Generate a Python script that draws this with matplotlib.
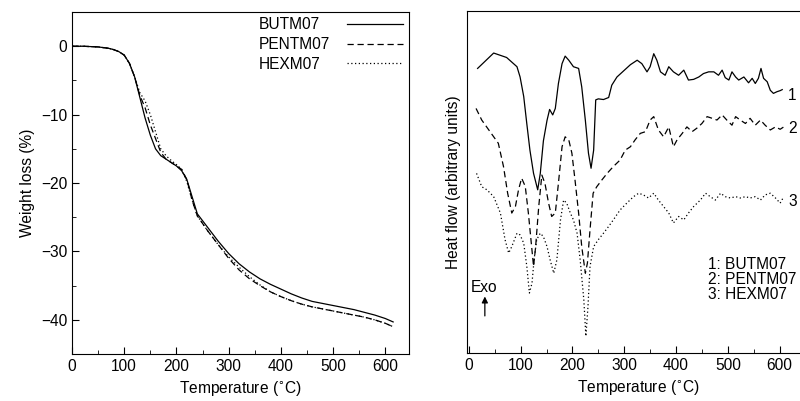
import matplotlib
matplotlib.use("Agg")
import matplotlib.pyplot as plt
from matplotlib.ticker import MultipleLocator

plt.rcParams['font.family'] = ['Liberation Sans', 'DejaVu Sans']
FS = 11.2
plt.rcParams['font.size'] = FS

# ---- TGA data (left) ----
tga_T = [1, 20, 50, 70, 80, 90, 100, 110, 120, 130, 140, 150, 160, 170, 180, 190, 200, 210, 220, 230, 240,
         260, 280, 300, 320, 340, 360, 380, 400, 420, 440, 460, 480, 500, 520, 540, 560, 580, 600, 615]
butm07 = [0, 0, -0.1, -0.3, -0.5, -0.8, -1.3, -2.5, -4.5, -7.5, -10.5, -13, -15, -16, -16.5, -17, -17.5, -18.2, -19.5, -22, -24.5,
          -26.5, -28.5, -30.3, -31.8, -33, -34, -34.8, -35.5, -36.2, -36.8, -37.3, -37.6, -37.9, -38.2, -38.5, -38.9, -39.3, -39.8, -40.3]
pentm07 = [0, 0, -0.1, -0.3, -0.5, -0.8, -1.3, -2.5, -4.5, -7.2, -9, -11.5, -13.5, -15.5, -16.5, -17, -17.5, -18, -19.5, -22.5, -24.8,
           -27, -29, -31, -32.7, -34, -35, -35.9, -36.6, -37.2, -37.7, -38.1, -38.4, -38.7, -39.0, -39.3, -39.6, -40.0, -40.5, -41.0]
hexm07 = [0, 0, -0.1, -0.3, -0.5, -0.8, -1.3, -2.5, -4.5, -6.8, -8, -10, -12.5, -15, -16, -16.7, -17.3, -18, -19.8, -22.5, -24.8,
          -27, -29, -30.8, -32.3, -33.7, -34.9, -35.9, -36.6, -37.2, -37.7, -38.1, -38.4, -38.7, -39.0, -39.3, -39.6, -40.0, -40.5, -41.0]

# ---- DSC data (right), arbitrary units ----
dsc1_T = [17, 48, 73, 93, 99, 106, 112, 118, 125, 133, 138, 144, 151, 156, 162, 167, 173, 180, 186, 193, 202, 212, 218,
          225, 231, 236, 241, 245, 250, 260, 270, 276, 286, 299, 312, 325, 334, 344, 350, 357, 363, 370, 379, 386, 395,
          405, 415, 424, 434, 444, 453, 463, 473, 482, 489, 495, 502, 508, 515, 521, 531, 540, 547, 553, 559, 564, 569,
          576, 582, 588, 595, 601, 605]
dsc1 = [83.2, 87.7, 86.4, 83.7, 80.7, 75, 67, 59.3, 52.5, 47.7, 52.5, 62, 68, 71.2, 69.6, 71.5, 78.8, 84.6, 86.8, 85.6,
        83.7, 83.2, 77.8, 68, 58.4, 54, 59.3, 74, 74.3, 74.1, 74.7, 78.3, 80.7, 82.5, 84.3, 85.6, 84.6, 82.2, 83.7, 87.5,
        85.6, 82.2, 81.2, 83.7, 82.2, 81.2, 82.7, 79.8, 80, 80.7, 81.7, 82.2, 82.2, 81.2, 82.7, 80.5, 79.8, 82.2, 80.7,
        79.8, 80.7, 79, 80.3, 78.8, 80.3, 83.2, 80.3, 79.3, 76.8, 75.9, 76.4, 76.7, 77]
dsc2_T = [14, 25, 41, 57, 67, 75, 83, 90, 96, 102, 109, 115, 120, 125, 129, 135, 141, 147, 154, 160, 167, 173, 180, 186,
          193, 199, 205, 212, 218, 225, 229, 234, 240, 247, 257, 267, 279, 292, 302, 312, 321, 331, 341, 350, 357, 366,
          376, 386, 395, 402, 412, 421, 431, 440, 450, 460, 470, 479, 489, 498, 508, 515, 524, 534, 543, 553, 563, 572,
          582, 592, 601, 608]
dsc2 = [71.5, 68.1, 64.7, 61.3, 54.5, 46.7, 40.9, 42.8, 47.7, 51.1, 48.7, 40.9, 33.1, 25.3, 31, 42.8, 52, 49.6, 43.8,
        39.9, 40.9, 49.6, 60.3, 63.2, 62.3, 58.4, 50.6, 40.9, 31.1, 23.3, 26.3, 36, 46.7, 48.6, 50.6, 52.5, 54.5, 56.4,
        59.3, 60.3, 62.3, 64.2, 64.7, 68.1, 69.1, 65.2, 63.2, 66.1, 60.3, 62.3, 64.2, 66.1, 64.7, 65.7, 67.1, 69.1, 68.6,
        68.1, 69.6, 68.1, 66.6, 69.1, 68.1, 67.1, 68.6, 66.6, 68.1, 66.6, 65.2, 66.1, 65.4, 66.1]
dsc3_T = [15, 25, 35, 48, 61, 70, 77, 83, 93, 99, 106, 112, 117, 122, 126, 131, 138, 144, 151, 157, 164, 170, 177, 183,
          189, 196, 202, 209, 215, 222, 226, 230, 234, 241, 250, 260, 270, 279, 292, 305, 318, 328, 337, 347, 357, 366,
          376, 386, 395, 405, 415, 424, 434, 447, 457, 466, 476, 486, 495, 505, 515, 524, 534, 543, 553, 563, 572, 582,
          592, 601, 608]
dsc3 = [52.5, 48.6, 47.7, 45.7, 40.9, 33.1, 29.2, 31.1, 35, 34.5, 32.1, 25.3, 17.5, 20.4, 27.2, 33.1, 35, 34, 31.1, 27.2,
        23.3, 27.2, 38.9, 44.7, 43.8, 40.9, 38.9, 35, 27.2, 15.6, 4.9, 13.4, 25.3, 31.1, 33.1, 35, 37, 38.9, 41.8, 43.8,
        45.7, 46.7, 46.2, 45.3, 46.7, 44.7, 42.8, 40.9, 38, 39.9, 38.9, 40.9, 42.8, 44.7, 46.7, 45.7, 44.7, 46.7, 45.7,
        45.3, 45.7, 45.3, 45.7, 45.3, 45.7, 44.7, 46.2, 46.7, 45.3, 43.8, 45.7]

curve_labels = ['1', '2', '3']
curve_label_y = [75.4, 65.7, 44.3]
key_text = '1: BUTM07\n2: PENTM07\n3: HEXM07'

fig = plt.figure(figsize=(8.0, 4.01), dpi=100)

# ---- Left panel ----
ax1 = fig.add_axes([0.09, 0.117, 0.421, 0.853])
ax1.plot(tga_T, butm07, color='black', lw=0.9, ls='-', label='BUTM07')
ax1.plot(tga_T, pentm07, color='black', lw=0.9, ls=(0, (5, 3)), label='PENTM07')
ax1.plot(tga_T, hexm07, color='black', lw=0.9, ls=(0, (1, 2)), label='HEXM07')
ax1.set_xlim(0, 645)
ax1.set_ylim(-45, 5)
ax1.xaxis.set_major_locator(MultipleLocator(100))
ax1.xaxis.set_minor_locator(MultipleLocator(50))
ax1.yaxis.set_major_locator(MultipleLocator(10))
ax1.yaxis.set_minor_locator(MultipleLocator(5))
ax1.tick_params(which='both', direction='in', labelsize=FS)
ax1.tick_params(which='major', length=5)
ax1.tick_params(which='minor', length=3)
ax1.set_xlabel('Temperature ($^{\\circ}$C)', fontsize=FS)
ax1.set_ylabel('Weight loss (%)', fontsize=FS)
leg = ax1.legend(loc='upper right', frameon=False, markerfirst=False, fontsize=FS,
                 handlelength=3.6, labelspacing=0.3, borderaxespad=0.25, borderpad=0.1,
                 handletextpad=1.1)

# ---- Right panel ----
ax2 = fig.add_axes([0.5834, 0.12, 0.43, 0.8526])
ax2.plot(dsc1_T, dsc1, color='black', lw=0.9, ls='-')
ax2.plot(dsc2_T, dsc2, color='black', lw=0.9, ls=(0, (5, 3)))
ax2.plot(dsc3_T, dsc3, color='black', lw=0.9, ls=(0, (1, 2)))
ax2.set_xlim(-4, 660)
ax2.set_ylim(0, 100)
ax2.xaxis.set_major_locator(MultipleLocator(100))
ax2.xaxis.set_minor_locator(MultipleLocator(50))
ax2.tick_params(axis='x', which='both', direction='in', labelsize=FS)
ax2.tick_params(axis='x', which='major', length=5)
ax2.tick_params(axis='x', which='minor', length=3)
ax2.set_yticks([])
ax2.spines['right'].set_visible(False)
ax2.set_xlabel('Temperature ($^{\\circ}$C)', fontsize=FS)
ax2.set_ylabel('Heat flow (arbitrary units)', fontsize=FS)

for lab, yv in zip(curve_labels, curve_label_y):
    ax2.text(633, yv, lab, fontsize=FS, va='center', ha='right')

ax2.text(0.70, 0.28, key_text, transform=ax2.transAxes,
         fontsize=FS, va='top', ha='left', linespacing=1.0)
ax2.text(4, 19.0, 'Exo', fontsize=FS, ha='left', va='center')
ax2.annotate('', xy=(31, 17.3), xytext=(31, 10.0),
             arrowprops=dict(arrowstyle='-|>', color='black', lw=0.9, mutation_scale=9))

# left-align legend labels while keeping line samples aligned
try:
    fig.canvas.draw()
    r = fig.canvas.get_renderer()
    col = leg._legend_handle_box.get_children()[0]
    items = col.get_children()
    widths = [it.get_children()[0].get_bbox(r).width for it in items]
    wmax = max(widths)
    pad_pt = 1.1 * FS
    for it, w in zip(items, widths):
        it.sep = pad_pt + (wmax - w) * 72.0 / fig.dpi
    col.align = 'left'
except Exception:
    pass

fig.savefig('out.png', dpi=100)
